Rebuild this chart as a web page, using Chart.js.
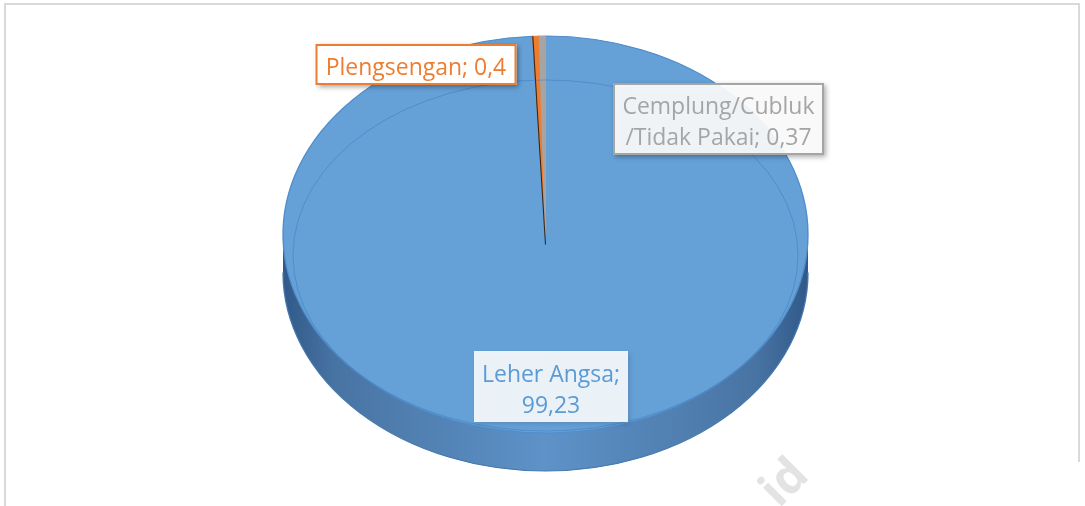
<!DOCTYPE html>
<html>
<head>
<meta charset="utf-8">
<title>Jenis Kloset</title>
<style>
    body, html {
        margin: 0;
        padding: 0;
        background: #fff;
        overflow: hidden;
    }
    #chart { display: block; }
</style>
</head>
<body>
<canvas id="chart" width="1085" height="506"></canvas>

<script src="https://cdn.jsdelivr.net/npm/chart.js"></script>
<script>
// data
const categories = ['Leher Angsa', 'Plengsengan', 'Cemplung/Cubluk/Tidak Pakai'];
const values = [99.23, 0.4, 0.37];
const valueLabels = ['99,23', '0,4', '0,37'];
const sliceColors = ['#65a1d7', '#ed7d31', '#a5a5a5'];
const sideColors = ['#4f84bb', '#b35a1f', '#7a7a7a'];
const textColors = ['#5b9bd5', '#ed7d31', '#a5a5a5'];

// layout of the flattened 3d pie
const CX = 545.5, CY = 234.5, RX = 262.5, RY = 198.5, DEPTH = 38;
const W = 1085, H = 506;

// label boxes (excel "best fit" places)
const boxes = [
    {cx: 551, cy: 386.5, w: 154, h: 71, fill: 'rgba(255,255,255,0.88)', border: null, maxW: 150},
    {cx: 416, cy: 64.5, w: 201, h: 41, fill: '#ffffff', border: '#ed7d31', maxW: 195},
    {cx: 718.5, cy: 119, w: 211, h: 72, fill: 'rgba(255,255,255,0.92)', border: '#a5a5a5', maxW: 200}
];

const FONT = '24px "Open Sans", "Noto Sans", sans-serif';
let squeeze = 1;

function wrap(ctx, text, maxW) {
    // split on spaces and before '/'
    const tokens = text.match(/\/?[^\s\/]+\s*/g);
    const lines = [];
    let cur = '';
    tokens.forEach(t => {
        const test = cur + t;
        if (cur && ctx.measureText(test.trim()).width * squeeze > maxW) {
            lines.push(cur.trim());
            cur = t;
        } else {
            cur = test;
        }
    });
    if (cur) lines.push(cur.trim());
    return lines;
}

const pie3d = {
    id: 'pie3d',
    beforeDraw(chart) {
        const ctx = chart.ctx;
        ctx.save();
        ctx.strokeStyle = '#d9d9d9';
        ctx.lineWidth = 2;
        ctx.beginPath();
        ctx.moveTo(5, H);
        ctx.lineTo(5, 4);
        ctx.lineTo(1079, 4);
        ctx.lineTo(1079, 462);
        ctx.stroke();
        ctx.restore();
    },
    beforeDatasetsDraw(chart) {
        const ctx = chart.ctx;
        const arcs = chart.getDatasetMeta(0).data;
        const a = arcs[0];
        const r = a.outerRadius;
        const sx = RX / r, sy = RY / r;
        ctx.save();
        ctx.translate(a.x, a.y);
        ctx.scale(sx, sy);
        ctx.translate(-a.x, -a.y);

        // side wall
        const grad = ctx.createLinearGradient(a.x - r, 0, a.x + r, 0);
        grad.addColorStop(0, '#30598a');
        grad.addColorStop(0.1, '#4874a3');
        grad.addColorStop(0.5, '#5e92c8');
        grad.addColorStop(0.9, '#4874a3');
        grad.addColorStop(1, '#30598a');
        for (let k = DEPTH; k >= 1; k--) {
            const dy = k / sy;
            arcs.forEach((el, i) => {
                ctx.beginPath();
                ctx.moveTo(el.x, el.y + dy);
                ctx.arc(el.x, el.y + dy, el.outerRadius, el.startAngle, el.endAngle);
                ctx.closePath();
                ctx.fillStyle = i === 0 ? grad : sideColors[i];
                ctx.fill();
            });
        }
        ctx.beginPath();
        ctx.arc(a.x, a.y + DEPTH / sy, r, 0, Math.PI);
        ctx.strokeStyle = '#4579ad';
        ctx.lineWidth = 1;
        ctx.stroke();
    },
    afterDatasetsDraw(chart) {
        const ctx = chart.ctx;
        const arcs = chart.getDatasetMeta(0).data;
        const a = arcs[0];
        const r = a.outerRadius;

        // dark seam left of the orange slice
        const t = arcs[1].startAngle;
        ctx.beginPath();
        ctx.moveTo(a.x, a.y + 10);
        ctx.lineTo(a.x + r * Math.cos(t), a.y + r * Math.sin(t));
        ctx.strokeStyle = 'rgba(30,20,10,0.85)';
        ctx.lineWidth = 0.8;
        ctx.stroke();
        ctx.restore();

        // bevel ring on the top face (thick at the back, thin at the front)
        ctx.save();
        ctx.beginPath();
        ctx.ellipse(a.x, a.y + 21, RX - 10, RY - 23, 0, 0, Math.PI * 2);
        ctx.strokeStyle = 'rgba(50,110,175,0.4)';
        ctx.lineWidth = 1;
        ctx.stroke();
        ctx.restore();
    },
    afterDraw(chart) {
        const ctx = chart.ctx;

        // watermark
        ctx.save();
        ctx.translate(779, 509);
        ctx.rotate(-Math.PI / 4);
        ctx.font = 'bold 48px "Open Sans", sans-serif';
        ctx.fillStyle = '#e3e3e3';
        ctx.fillText('id', 0, 0);
        ctx.restore();

        ctx.save();
        ctx.font = FONT;
        squeeze = 138 / ctx.measureText('Leher Angsa;').width;
        boxes.forEach((b, i) => {
            const x = b.cx - b.w / 2, y = b.cy - b.h / 2;
            ctx.save();
            ctx.shadowColor = b.border ? 'rgba(0,0,0,0.35)' : 'rgba(0,0,0,0.15)';
            ctx.shadowBlur = 5;
            ctx.shadowOffsetX = 2;
            ctx.shadowOffsetY = 2;
            ctx.fillStyle = b.fill;
            ctx.fillRect(x, y, b.w, b.h);
            ctx.restore();
            if (b.border) {
                ctx.strokeStyle = b.border;
                ctx.lineWidth = 2;
                ctx.strokeRect(x + 1, y + 1, b.w - 2, b.h - 2);
            }
            const lines = wrap(ctx, categories[i] + '; ' + valueLabels[i], b.maxW);
            const lh = 31;
            const base0 = b.cy - (lines.length - 1) * lh / 2 + 10.5;
            ctx.fillStyle = textColors[i];
            ctx.textAlign = 'center';
            ctx.textBaseline = 'alphabetic';
            lines.forEach((ln, j) => {
                ctx.save();
                ctx.translate(b.cx, base0 + j * lh);
                ctx.scale(squeeze, 1);
                ctx.fillText(ln, 0, 0);
                ctx.restore();
            });
        });
        ctx.restore();
    }
};

new Chart(document.getElementById('chart'), {
    type: 'pie',
    data: {
        labels: categories,
        datasets: [{
            data: values,
            backgroundColor: sliceColors,
            borderColor: ['#4f8dcb', '#ed7d31', '#a5a5a5'],
            borderWidth: 1,
            hoverOffset: 0
        }]
    },
    options: {
        responsive: false,
        animation: false,
        devicePixelRatio: 1,
        events: [],
        layout: {
            padding: {left: 2 * CX - W, right: 0, top: CY - RY, bottom: H - CY - RY}
        },
        plugins: {
            legend: { display: false },
            tooltip: { enabled: false }
        }
    },
    plugins: [pie3d]
});
</script>
</body>
</html>
